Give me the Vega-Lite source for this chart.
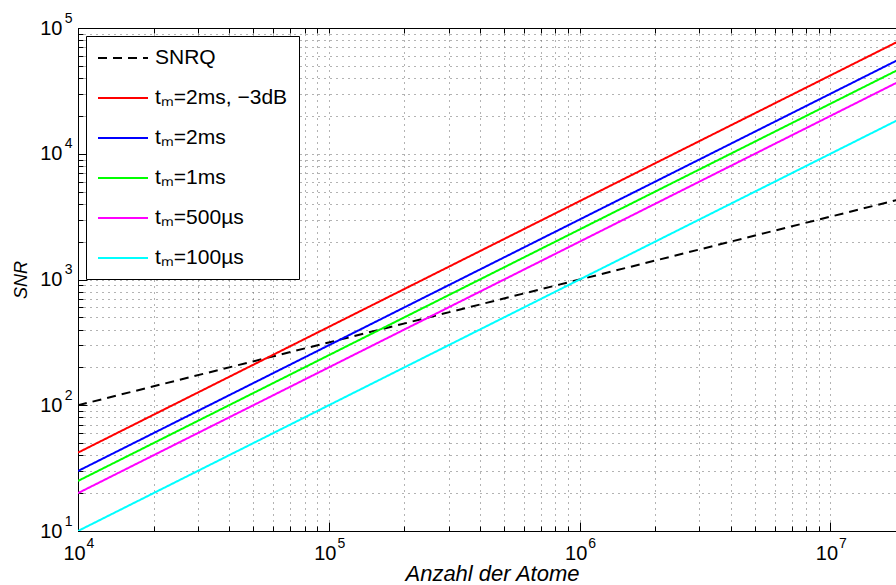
{
  "$schema": "https://vega.github.io/schema/vega-lite/v6.json",
  "width": 828,
  "height": 503,
  "autosize": {"type": "none"},
  "padding": {"left": 78, "top": 28, "right": 0, "bottom": 54},
  "background": "white",
  "config": {
    "font": "Liberation Sans",
    "view": {"stroke": "black", "strokeWidth": 1},
    "axis": {
      "domainColor": "black",
      "tickColor": "black",
      "labelColor": "black",
      "titleColor": "black",
      "labelFont": "Liberation Sans",
      "titleFont": "Liberation Sans",
      "labelFontSize": 20,
      "titleFontStyle": "italic",
      "titleFontWeight": "normal",
      "gridColor": "#666666",
      "gridDash": [1, 5],
      "gridWidth": 1,
      "tickSize": -5,
      "labelOverlap": false,
      "labelFlush": false
    },
    "axisX": {"titleFontSize": 22, "titlePadding": 0},
    "axisY": {"titleFontSize": 18, "titlePadding": 9},
    "legend": {
      "orient": "top-left",
      "offset": 8,
      "strokeColor": "black",
      "fillColor": "white",
      "padding": 11,
      "symbolType": "M-1,0H4",
      "symbolSize": 400,
      "symbolStrokeWidth": 2,
      "labelFont": "Liberation Sans",
      "labelFontSize": 21,
      "labelColor": "black",
      "labelOffset": 36,
      "rowPadding": 19,
      "titlePadding": 0
    }
  },
  "data": {
    "values": [
      {"series": "SNRQ", "N": 10000, "SNR": 100},
      {"series": "SNRQ", "N": 100000, "SNR": 316},
      {"series": "SNRQ", "N": 1000000, "SNR": 1000},
      {"series": "SNRQ", "N": 10000000, "SNR": 3162},
      {"series": "SNRQ", "N": 20000000, "SNR": 4472},
      {"series": "tₘ=2ms, −3dB", "N": 10000, "SNR": 42},
      {"series": "tₘ=2ms, −3dB", "N": 100000, "SNR": 420},
      {"series": "tₘ=2ms, −3dB", "N": 1000000, "SNR": 4200},
      {"series": "tₘ=2ms, −3dB", "N": 10000000, "SNR": 42000},
      {"series": "tₘ=2ms, −3dB", "N": 20000000, "SNR": 84000},
      {"series": "tₘ=2ms", "N": 10000, "SNR": 30},
      {"series": "tₘ=2ms", "N": 100000, "SNR": 300},
      {"series": "tₘ=2ms", "N": 1000000, "SNR": 3000},
      {"series": "tₘ=2ms", "N": 10000000, "SNR": 30000},
      {"series": "tₘ=2ms", "N": 20000000, "SNR": 60000},
      {"series": "tₘ=1ms", "N": 10000, "SNR": 25},
      {"series": "tₘ=1ms", "N": 100000, "SNR": 250},
      {"series": "tₘ=1ms", "N": 1000000, "SNR": 2500},
      {"series": "tₘ=1ms", "N": 10000000, "SNR": 25000},
      {"series": "tₘ=1ms", "N": 20000000, "SNR": 50000},
      {"series": "tₘ=500µs", "N": 10000, "SNR": 20},
      {"series": "tₘ=500µs", "N": 100000, "SNR": 200},
      {"series": "tₘ=500µs", "N": 1000000, "SNR": 2000},
      {"series": "tₘ=500µs", "N": 10000000, "SNR": 20000},
      {"series": "tₘ=500µs", "N": 20000000, "SNR": 40000},
      {"series": "tₘ=100µs", "N": 10000, "SNR": 10},
      {"series": "tₘ=100µs", "N": 100000, "SNR": 100},
      {"series": "tₘ=100µs", "N": 1000000, "SNR": 1000},
      {"series": "tₘ=100µs", "N": 10000000, "SNR": 10000},
      {"series": "tₘ=100µs", "N": 20000000, "SNR": 20000}
    ]
  },
  "layer": [
    {
      "mark": {"type": "line", "strokeWidth": 2, "clip": true},
      "encoding": {
        "x": {
          "field": "N",
          "type": "quantitative",
          "scale": {"type": "log", "domain": [10000, 20000000], "nice": false},
          "axis": {
            "orient": "bottom",
            "title": "Anzahl der Atome",
            "grid": true,
            "labelPadding": 17,
            "labelOffset": -4,
            "values": [10000, 20000, 30000, 40000, 50000, 60000, 70000, 80000, 90000, 100000, 200000, 300000, 400000, 500000, 600000, 700000, 800000, 900000, 1000000, 2000000, 3000000, 4000000, 5000000, 6000000, 7000000, 8000000, 9000000, 10000000, 20000000],
            "labelExpr": "abs(log(datum.value)/LN10 - round(log(datum.value)/LN10)) < 0.001 ? '10' : ''"
          }
        },
        "y": {
          "field": "SNR",
          "type": "quantitative",
          "scale": {"type": "log", "domain": [10, 100000], "nice": false},
          "axis": {
            "orient": "left",
            "title": "SNR",
            "grid": true,
            "labelPadding": 21,
            "values": [10, 20, 30, 40, 50, 60, 70, 80, 90, 100, 200, 300, 400, 500, 600, 700, 800, 900, 1000, 2000, 3000, 4000, 5000, 6000, 7000, 8000, 9000, 10000, 20000, 30000, 40000, 50000, 60000, 70000, 80000, 90000, 100000],
            "labelExpr": "abs(log(datum.value)/LN10 - round(log(datum.value)/LN10)) < 0.001 ? '10' : ''"
          }
        },
        "color": {
          "field": "series",
          "type": "nominal",
          "scale": {
            "domain": ["SNRQ", "tₘ=2ms, −3dB", "tₘ=2ms", "tₘ=1ms", "tₘ=500µs", "tₘ=100µs"],
            "range": ["#000000", "#ff0000", "#0000ff", "#00ff00", "#ff00ff", "#00ffff"]
          },
          "legend": {"title": null}
        },
        "strokeDash": {
          "field": "series",
          "type": "nominal",
          "scale": {
            "domain": ["SNRQ", "tₘ=2ms, −3dB", "tₘ=2ms", "tₘ=1ms", "tₘ=500µs", "tₘ=100µs"],
            "range": [[9, 6], [1, 0], [1, 0], [1, 0], [1, 0], [1, 0]]
          },
          "legend": {"title": null}
        }
      }
    },
    {
      "mark": {"type": "point", "opacity": 0},
      "encoding": {
        "x": {
          "field": "N",
          "type": "quantitative",
          "axis": {
            "orient": "top",
            "title": null,
            "labels": false,
            "grid": false,
            "values": [10000, 20000, 30000, 40000, 50000, 60000, 70000, 80000, 90000, 100000, 200000, 300000, 400000, 500000, 600000, 700000, 800000, 900000, 1000000, 2000000, 3000000, 4000000, 5000000, 6000000, 7000000, 8000000, 9000000, 10000000, 20000000]
          }
        },
        "y": {"field": "SNR", "type": "quantitative", "axis": null}
      }
    },
    {
      "mark": {"type": "point", "opacity": 0},
      "encoding": {
        "x": {
          "field": "N",
          "type": "quantitative",
          "axis": {
            "orient": "bottom",
            "title": null,
            "grid": false,
            "domain": false,
            "tickSize": -9,
            "labelFontSize": 14,
            "labelPadding": 14,
            "labelOffset": 12,
            "values": [10000, 100000, 1000000, 10000000],
            "labelExpr": "'' + round(log(datum.value)/LN10)"
          }
        },
        "y": {"field": "SNR", "type": "quantitative", "axis": null}
      }
    },
    {
      "mark": {"type": "point", "opacity": 0},
      "encoding": {
        "x": {"field": "N", "type": "quantitative", "axis": null},
        "y": {
          "field": "SNR",
          "type": "quantitative",
          "axis": {
            "orient": "left",
            "title": null,
            "grid": false,
            "domain": false,
            "tickSize": -9,
            "labelFontSize": 14,
            "labelPadding": 15,
            "labelOffset": -10,
            "values": [10, 100, 1000, 10000, 100000],
            "labelExpr": "'' + round(log(datum.value)/LN10)"
          }
        }
      }
    }
  ],
  "resolve": {"axis": {"x": "independent", "y": "independent"}}
}
